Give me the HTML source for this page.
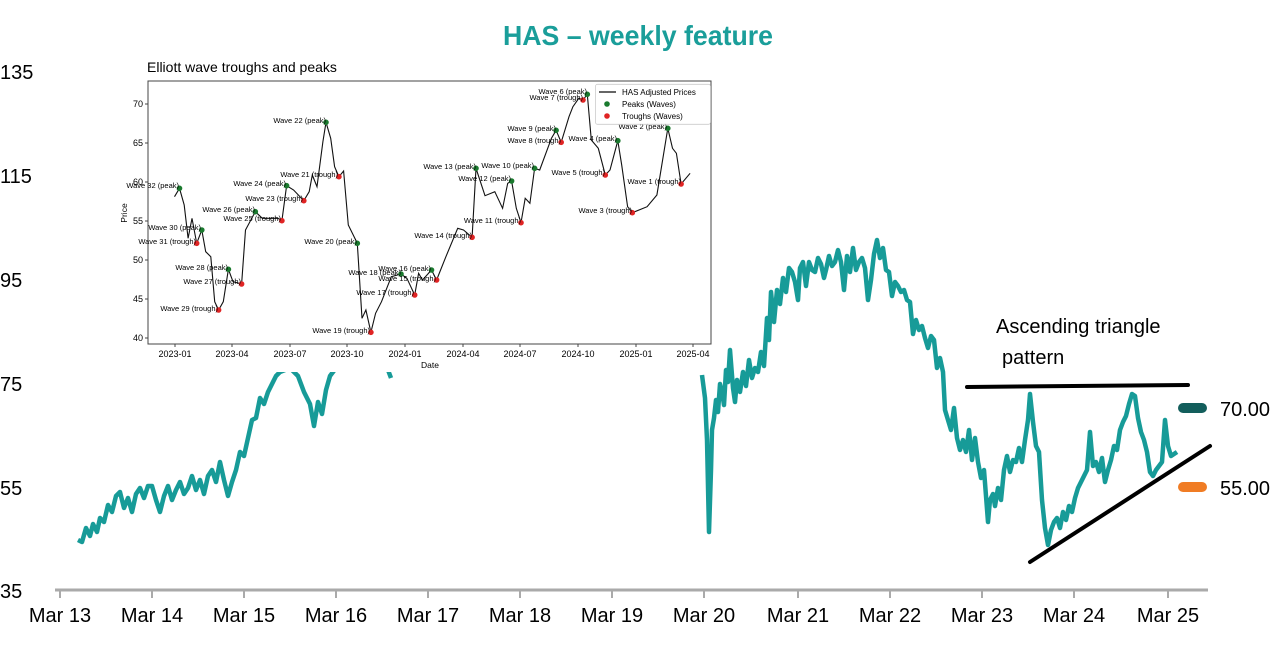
<!DOCTYPE html>
<html><head><meta charset="utf-8"><style>
html,body{margin:0;padding:0;background:#fff;}
svg{display:block;font-family:"Liberation Sans",sans-serif;}
</style></head><body>
<svg width="1280" height="656" viewBox="0 0 1280 656" xmlns="http://www.w3.org/2000/svg">
<rect width="1280" height="656" fill="#fff"/>
<text x="638" y="45" text-anchor="middle" font-size="28" font-weight="bold" fill="#1a9e9a" textLength="270" lengthAdjust="spacingAndGlyphs">HAS – weekly feature</text>
<g font-size="20" fill="#000">
<text x="0" y="79">135</text><text x="0" y="183">115</text><text x="0" y="287">95</text>
<text x="0" y="391">75</text><text x="0" y="495">55</text><text x="0" y="598">35</text>
</g>
<line x1="55" y1="590" x2="1208" y2="590" stroke="#aaa" stroke-width="3"/>
<g stroke="#aaa" stroke-width="2">
<line x1="60" y1="590" x2="60" y2="598"/><line x1="152" y1="590" x2="152" y2="598"/><line x1="244" y1="590" x2="244" y2="598"/><line x1="336" y1="590" x2="336" y2="598"/><line x1="428" y1="590" x2="428" y2="598"/><line x1="520" y1="590" x2="520" y2="598"/><line x1="612" y1="590" x2="612" y2="598"/><line x1="704" y1="590" x2="704" y2="598"/><line x1="798" y1="590" x2="798" y2="598"/><line x1="890" y1="590" x2="890" y2="598"/><line x1="982" y1="590" x2="982" y2="598"/><line x1="1074" y1="590" x2="1074" y2="598"/><line x1="1168" y1="590" x2="1168" y2="598"/>
</g>
<g font-size="20" fill="#000" text-anchor="middle">
<text x="60" y="622">Mar 13</text><text x="152" y="622">Mar 14</text><text x="244" y="622">Mar 15</text><text x="336" y="622">Mar 16</text><text x="428" y="622">Mar 17</text><text x="520" y="622">Mar 18</text><text x="612" y="622">Mar 19</text><text x="704" y="622">Mar 20</text><text x="798" y="622">Mar 21</text><text x="890" y="622">Mar 22</text><text x="982" y="622">Mar 23</text><text x="1074" y="622">Mar 24</text><text x="1168" y="622">Mar 25</text>
</g>
<g fill="none" stroke="#179b98" stroke-width="4.5" stroke-linejoin="round">
<polyline points="78,540 82,542 86,528 90,536 93,524 97,532 100,518 104,522 108,505 112,512 116,496 120,492 124,508 128,498 132,512 136,494 140,488 144,498 148,486 152,486 156,500 160,512 164,496 168,486 172,500 176,490 180,482 184,494 188,488 192,476 196,490 200,480 204,494 208,476 212,470 216,482 220,462 224,480 228,496 232,482 236,470 240,452 244,456 248,438 252,420 256,418 260,398 264,404 268,392 272,384 276,376 280,372 290,368 298,376 304,392 310,404 314,426 318,402 322,414 326,390 330,376 336,368"/>
<polyline points="388,370 391,378"/>
<polyline points="702,375 705,398 707,440 709,532 711,470 712,430 714,418 716,400 718,412 720,384 722,392 724,405 726,370 728,382 730,350 733,388 735,402 737,380 740,392 743,372 746,386 749,360 752,378 755,368 758,372 761,352 764,366 767,318 769,340 771,292 774,322 777,290 780,304 783,278 786,292 789,268 792,272 795,282 798,300 800,268 803,262 806,286 809,262 812,270 815,272 818,258 821,264 824,278 826,270 829,256 832,266 835,262 838,250 841,262 844,290 847,256 850,272 853,248 856,270 859,262 862,258 865,268 868,300 871,280 874,254 877,240 880,258 883,248 886,270 889,272 892,296 895,282 898,286 901,292 904,290 907,300 910,302 913,334 916,320 919,330 922,326 925,338 928,348 931,336 934,340 937,368 940,358 943,372 945,410 948,420 951,430 954,408 957,438 960,450 963,440 966,452 969,430 972,460 975,438 978,462 981,478 984,470 986,496 988,522 990,500 993,494 995,506 998,488 1001,500 1004,470 1007,456 1010,472 1013,460 1016,462 1019,448 1022,462 1025,440 1028,420 1030,394 1033,422 1036,446 1039,452 1042,500 1045,528 1048,545 1051,530 1054,522 1057,518 1060,528 1063,512 1066,520 1069,506 1072,512 1075,498 1078,488 1081,482 1084,476 1087,470 1090,432 1093,466 1096,462 1099,472 1102,458 1105,482 1108,470 1111,460 1114,446 1117,450 1120,430 1123,422 1126,416 1129,404 1132,394 1135,396 1138,418 1141,432 1144,440 1147,452 1150,472 1153,476 1156,470 1159,466 1162,462 1165,420 1168,446 1171,456 1174,454 1177,452"/>
</g>
<line x1="967" y1="387" x2="1188" y2="385" stroke="#000" stroke-width="4" stroke-linecap="round"/>
<line x1="1030" y1="562" x2="1210" y2="446" stroke="#000" stroke-width="4" stroke-linecap="round"/>
<text x="996" y="333" font-size="20" fill="#000">Ascending triangle</text>
<text x="1002" y="364" font-size="20" fill="#000">pattern</text>
<line x1="1183" y1="408" x2="1202" y2="408" stroke="#135e5c" stroke-width="10" stroke-linecap="round"/>
<line x1="1183" y1="487" x2="1202" y2="487" stroke="#f07c24" stroke-width="10" stroke-linecap="round"/>
<text x="1220" y="416" font-size="20" fill="#000">70.00</text>
<text x="1220" y="495" font-size="20" fill="#000">55.00</text>

<rect x="115" y="54" width="600" height="318" fill="#fff"/>
<text x="147" y="72" font-size="14" fill="#000">Elliott wave troughs and peaks</text>
<rect x="148" y="81" width="563" height="263" fill="none" stroke="#444" stroke-width="1"/>
<g font-size="9" fill="#000" text-anchor="end">
<text x="143" y="107">70</text><text x="143" y="146">65</text><text x="143" y="185">60</text><text x="143" y="224">55</text><text x="143" y="263">50</text><text x="143" y="302">45</text><text x="143" y="341">40</text>
</g>
<g stroke="#444" stroke-width="1">
<line x1="145" y1="104" x2="148" y2="104"/><line x1="145" y1="143" x2="148" y2="143"/><line x1="145" y1="182" x2="148" y2="182"/><line x1="145" y1="221" x2="148" y2="221"/><line x1="145" y1="260" x2="148" y2="260"/><line x1="145" y1="299" x2="148" y2="299"/><line x1="145" y1="338" x2="148" y2="338"/>
</g>
<text x="127" y="213" font-size="8.5" transform="rotate(-90 127 213)" text-anchor="middle">Price</text>
<g font-size="9" fill="#000" text-anchor="middle">
<text x="175" y="357">2023-01</text><text x="232" y="357">2023-04</text><text x="290" y="357">2023-07</text><text x="347" y="357">2023-10</text><text x="405" y="357">2024-01</text><text x="463" y="357">2024-04</text><text x="520" y="357">2024-07</text><text x="578" y="357">2024-10</text><text x="636" y="357">2025-01</text><text x="693" y="357">2025-04</text>
<text x="430" y="368" font-size="8.5">Date</text>
</g>
<g stroke="#444" stroke-width="1">
<line x1="175" y1="344" x2="175" y2="347"/><line x1="232" y1="344" x2="232" y2="347"/><line x1="290" y1="344" x2="290" y2="347"/><line x1="347" y1="344" x2="347" y2="347"/><line x1="405" y1="344" x2="405" y2="347"/><line x1="463" y1="344" x2="463" y2="347"/><line x1="520" y1="344" x2="520" y2="347"/><line x1="578" y1="344" x2="578" y2="347"/><line x1="636" y1="344" x2="636" y2="347"/><line x1="693" y1="344" x2="693" y2="347"/>
</g>
<polyline fill="none" stroke="#111" stroke-width="1.1" points="174.5,196.7 179.5,188.3 184.2,205 188.1,238.3 192,218.3 196.7,243.3 201.8,230 205.7,251.7 210.8,256.7 214.7,301.7 218.6,310 223.3,301.7 228.4,269.3 233,281.7 241.6,284 245.5,230 255.3,211.7 262.3,218.3 278,218.3 281.9,220.7 286.6,185.7 293.6,190 303.8,200.7 309.2,191.7 312.3,175 317,186.7 322.9,141.7 326,122.3 330.7,138.3 334.6,166.7 338.9,176.7 343.6,171 348.3,225 357.3,243.3 362,318.3 365.9,310 370.9,332.3 375.6,313.3 381.5,301.7 391.3,276.7 401,274 406.9,278.3 414.7,295 418.6,273.3 422.5,280 431.5,270 436.6,280 445.9,256.7 457.7,228.3 463.5,230 472.1,237.3 476,168.3 485,195.7 494.8,191.7 502.6,208.3 507.7,183.3 511.6,181 516.3,208.3 521,222.7 525.2,198.3 529.9,203.3 534.6,168.3 539.7,170 551.4,138.3 556.1,130.3 561.2,142.3 569,116.7 572.9,106.7 578.8,98.3 583,100 587.3,94.3 591.3,140 598.3,148.3 605.3,175 610,170 617.8,140.7 621.7,165 627.6,206.7 632.3,212.7 647.1,206.7 656.9,195 667.8,128.3 672.5,148.3 676.4,153.3 681.1,184 690.1,173.3"/>
<g fill="#1a7a2e">
<circle cx="179.5" cy="188.3" r="2.8"/><circle cx="201.8" cy="230" r="2.8"/><circle cx="228.4" cy="269.3" r="2.8"/><circle cx="255.3" cy="211.7" r="2.8"/><circle cx="286.6" cy="185.7" r="2.8"/><circle cx="326" cy="122.3" r="2.8"/><circle cx="357.3" cy="243.3" r="2.8"/><circle cx="401" cy="274" r="2.8"/><circle cx="431.5" cy="270" r="2.8"/><circle cx="476" cy="168.3" r="2.8"/><circle cx="511.6" cy="181" r="2.8"/><circle cx="534.6" cy="168.3" r="2.8"/><circle cx="556.1" cy="130.3" r="2.8"/><circle cx="587.3" cy="94.3" r="2.8"/><circle cx="617.8" cy="140.7" r="2.8"/><circle cx="667.8" cy="128.3" r="2.8"/>
</g>
<g fill="#e02424">
<circle cx="196.7" cy="243.3" r="2.8"/><circle cx="218.6" cy="310" r="2.8"/><circle cx="241.6" cy="284" r="2.8"/><circle cx="281.9" cy="220.7" r="2.8"/><circle cx="303.8" cy="200.7" r="2.8"/><circle cx="338.9" cy="176.7" r="2.8"/><circle cx="370.9" cy="332.3" r="2.8"/><circle cx="414.7" cy="295" r="2.8"/><circle cx="436.6" cy="280" r="2.8"/><circle cx="472.1" cy="237.3" r="2.8"/><circle cx="521" cy="222.7" r="2.8"/><circle cx="561.2" cy="142.3" r="2.8"/><circle cx="583" cy="100" r="2.8"/><circle cx="605.3" cy="175" r="2.8"/><circle cx="632.3" cy="212.7" r="2.8"/><circle cx="681.1" cy="184" r="2.8"/>
</g>
<g font-size="7.5" fill="#000" text-anchor="end">
<text x="179" y="188">Wave 32 (peak)</text>
<text x="196" y="244">Wave 31 (trough)</text>
<text x="201" y="230">Wave 30 (peak)</text>
<text x="218" y="311">Wave 29 (trough)</text>
<text x="228" y="270">Wave 28 (peak)</text>
<text x="241" y="284">Wave 27 (trough)</text>
<text x="255" y="212">Wave 26 (peak)</text>
<text x="281" y="221">Wave 25 (trough)</text>
<text x="286" y="186">Wave 24 (peak)</text>
<text x="303" y="201">Wave 23 (trough)</text>
<text x="326" y="123">Wave 22 (peak)</text>
<text x="338" y="177">Wave 21 (trough)</text>
<text x="357" y="244">Wave 20 (peak)</text>
<text x="370" y="333">Wave 19 (trough)</text>
<text x="401" y="275">Wave 18 (peak)</text>
<text x="414" y="295">Wave 17 (trough)</text>
<text x="431" y="271">Wave 16 (peak)</text>
<text x="436" y="281">Wave 15 (trough)</text>
<text x="472" y="238">Wave 14 (trough)</text>
<text x="476" y="169">Wave 13 (peak)</text>
<text x="511" y="181">Wave 12 (peak)</text>
<text x="521" y="223">Wave 11 (trough)</text>
<text x="534" y="168">Wave 10 (peak)</text>
<text x="556" y="131">Wave 9 (peak)</text>
<text x="561" y="143">Wave 8 (trough)</text>
<text x="583" y="100">Wave 7 (trough)</text>
<text x="587" y="94">Wave 6 (peak)</text>
<text x="605" y="175">Wave 5 (trough)</text>
<text x="617" y="141">Wave 4 (peak)</text>
<text x="632" y="213">Wave 3 (trough)</text>
<text x="667" y="129">Wave 2 (peak)</text>
<text x="681" y="184">Wave 1 (trough)</text>
</g>
<rect x="595.5" y="84.3" width="115" height="40" fill="#fff" fill-opacity="0.85" stroke="#ccc" stroke-width="0.8" rx="2"/>
<line x1="599" y1="92" x2="616" y2="92" stroke="#333" stroke-width="1.5"/>
<circle cx="607" cy="104" r="2.8" fill="#1a7a2e"/>
<circle cx="607" cy="116" r="2.8" fill="#e02424"/>
<g font-size="8" fill="#000">
<text x="622" y="95">HAS Adjusted Prices</text>
<text x="622" y="107">Peaks (Waves)</text>
<text x="622" y="119">Troughs (Waves)</text>
</g>
</svg>
</body></html>
